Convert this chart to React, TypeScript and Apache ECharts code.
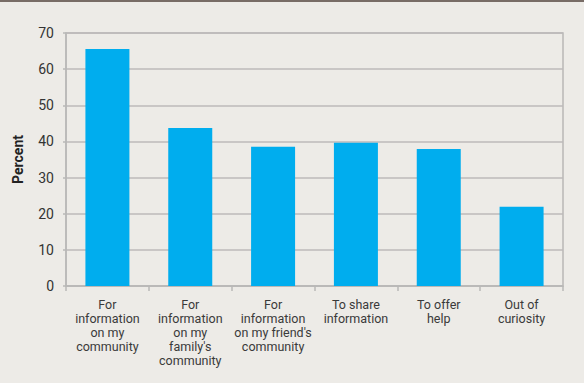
import React, { useEffect, useRef } from "react";
import * as echarts from "echarts";

const categories = [
  "For\ninformation\non my\ncommunity",
  "For\ninformation\non my\nfamily's\ncommunity",
  "For\ninformation\non my friend's\ncommunity",
  "To share\ninformation",
  "To offer\nhelp",
  "Out of\ncuriosity",
];
const values = [65.6, 43.7, 38.5, 39.6, 37.9, 21.9];

export default function App() {
  const ref = useRef<HTMLDivElement>(null);
  useEffect(() => {
    if (!ref.current) return;
    const chart = echarts.init(ref.current, undefined, { renderer: "svg" });
    chart.setOption({
      animation: false,
      backgroundColor: "#edebe7",
      textStyle: { fontFamily: "Roboto" },
      grid: {
        left: 66,
        right: 21,
        top: 33,
        bottom: 97,
        show: true,
        borderColor: "#b9b8b7",
        borderWidth: 1.5,
      },
      graphic: [
        {
          type: "rect",
          shape: { x: 0, y: 0, width: 584, height: 2 },
          style: { fill: "#786c66" },
        },
      ],
      xAxis: {
        type: "category",
        data: categories,
        axisLine: { lineStyle: { color: "#b9b8b7", width: 1.5 } },
        axisTick: { show: true, length: 5, lineStyle: { color: "#b9b8b7", width: 1.5 } },
        axisLabel: {
          interval: 0,
          color: "#3a3a3a",
          fontSize: 12.5,
          lineHeight: 14,
          margin: 11,
        },
      },
      yAxis: {
        type: "value",
        min: 0,
        max: 70,
        interval: 10,
        name: "Percent",
        nameLocation: "middle",
        nameGap: 41,
        nameTextStyle: { fontWeight: "bold", fontSize: 14, color: "#222" },
        axisLine: { show: true, lineStyle: { color: "#b9b8b7", width: 1.5 } },
        axisTick: { show: true, length: 3, lineStyle: { color: "#b9b8b7", width: 1.5 } },
        axisLabel: { color: "#333", fontSize: 14, margin: 12 },
        splitLine: { lineStyle: { color: "#bcbaba", width: 1.5 } },
      },
      series: [
        {
          type: "bar",
          data: values,
          barWidth: 44,
          itemStyle: { color: "#00adee" },
        },
      ],
    });
    return () => chart.dispose();
  }, []);
  return (
    <div
      ref={ref}
      style={{ position: "fixed", left: 0, top: 0, width: 584, height: 383 }}
    />
  );
}
